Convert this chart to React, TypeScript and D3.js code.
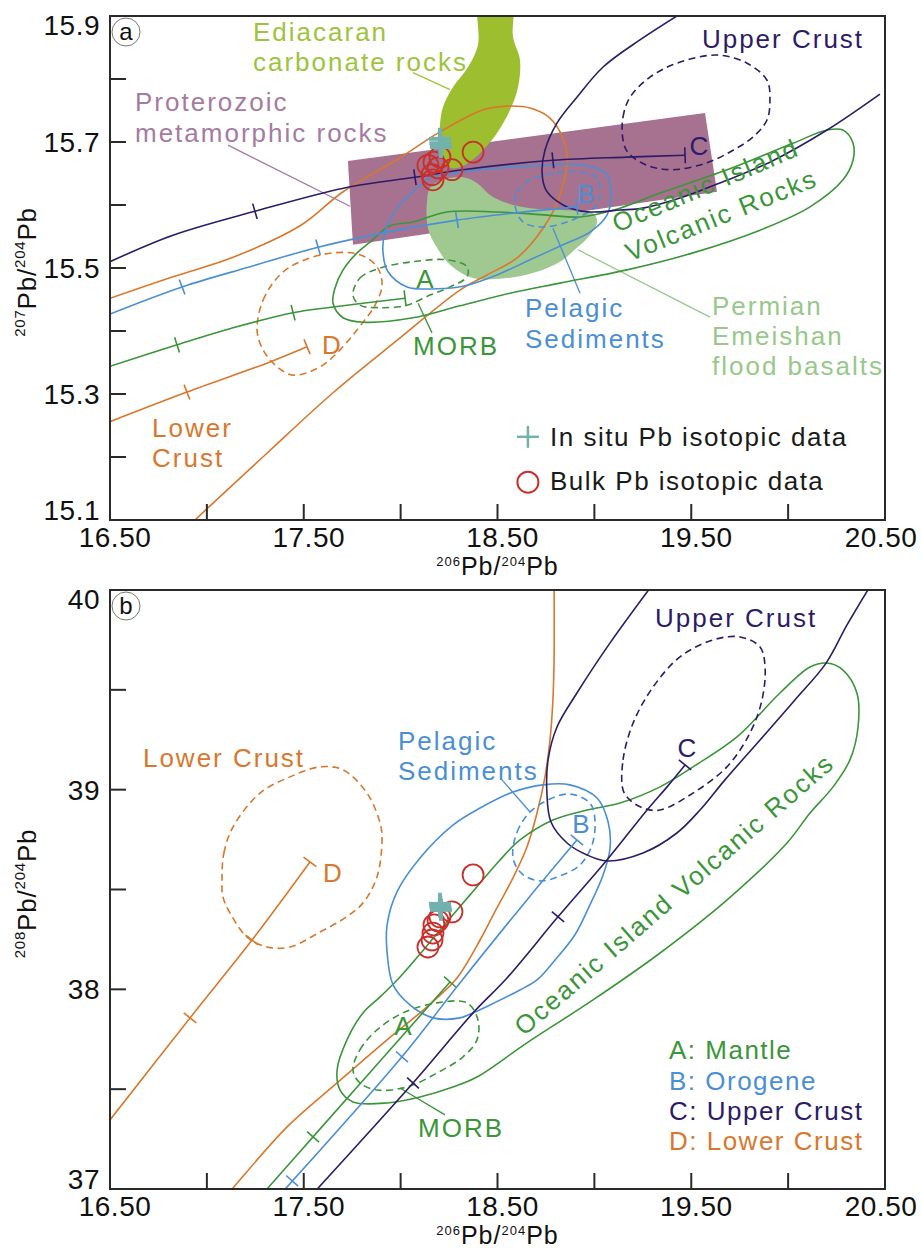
import React from 'react';
import * as d3 from 'd3';

type Pt = [number, number];

const FONT = "'Liberation Sans', Arial, Helvetica, sans-serif";
const NAVY = '#2d1b69';
const ORANGE = '#d9782d';
const BLUE = '#4a8fd6';
const GREEN = '#3b9639';
const RED = '#c9302c';
const TEAL = '#72b1ae';
const LIME = '#9dbf2f';
const LIME_TEXT = '#9cc43c';
const PERMIAN = '#9fc990';
const PERMIAN_TEXT = '#96c98a';
const PURPLE = '#a6728f';
const PURPLE_TEXT = '#a57ba2';
const AXIS = '#2a2a2a';

// ---------------- axes ----------------
const xTickValues = [17, 17.5, 18, 18.5, 19, 19.5, 20];
const xLabelValues = [16.5, 17.5, 18.5, 19.5, 20.5];
const aYTickValues = [15.2, 15.3, 15.4, 15.5, 15.6, 15.7, 15.8];
const aYLabelValues = [15.1, 15.3, 15.5, 15.7, 15.9];
const bYTickValues = [37.5, 38, 38.5, 39, 39.5];
const bYLabelValues = [37, 38, 39, 40];

// ---------------- samples ----------------
const bulk206 = [18.374, 18.265, 18.203, 18.172, 18.167, 18.162, 18.141, 18.193];
const bulk207 = [15.684, 15.656, 15.676, 15.668, 15.640, 15.648, 15.663, 15.659];
const bulk208 = [38.573, 38.388, 38.363, 38.323, 38.282, 38.247, 38.212, 38.343];
const insitu206 = [18.203, 18.205, 18.208];
const insitu207 = [15.705, 15.698, 15.692];
const insitu208 = [38.428, 38.413, 38.398];

// ---------------- panel a fields ----------------
const a_ediacaran: Pt[] = [[18.41,15.93],[18.57,15.93],[18.580,15.867],[18.616,15.830],[18.606,15.787],[18.565,15.751],[18.497,15.714],[18.425,15.687],[18.368,15.671],[18.306,15.660],[18.255,15.659],[18.219,15.671],[18.203,15.703],[18.203,15.727],[18.219,15.756],[18.270,15.787],[18.348,15.819],[18.399,15.854]];
const a_proterozoic: Pt[] = [[17.728,15.670],[19.571,15.746],[19.633,15.621],[17.754,15.537]];
const a_permian: Pt[] = [[18.136,15.605],[18.152,15.627],[18.219,15.640],[18.322,15.644],[18.394,15.635],[18.461,15.616],[18.549,15.603],[18.668,15.595],[18.838,15.592],[18.993,15.587],[19.014,15.573],[18.977,15.552],[18.910,15.532],[18.823,15.510],[18.704,15.494],[18.549,15.484],[18.374,15.484],[18.255,15.505],[18.188,15.532],[18.141,15.563]];

const a_lowerCrustField: Pt[] = [[16.500,15.452],[16.825,15.486],[17.135,15.517],[17.481,15.567],[17.703,15.621],[17.997,15.675],[18.203,15.716],[18.425,15.751],[18.549,15.757],[18.668,15.754],[18.771,15.738],[18.838,15.706],[18.859,15.675],[18.823,15.616],[18.735,15.563],[18.601,15.516],[18.446,15.489],[18.306,15.465],[17.997,15.389],[17.651,15.302],[17.310,15.206],[16.939,15.100],[16.90,15.088]];
const a_lowerCrustCurve: Pt[] = [[16.5,15.256],[16.897,15.303],[17.310,15.349],[17.517,15.375]];
const a_lowerCrustTicks: Pt[] = [[16.897,15.303],[17.517,15.375]];
const a_lowerCrustEllipse: Pt[] = [[17.259,15.402],[17.290,15.449],[17.377,15.489],[17.481,15.510],[17.651,15.524],[17.790,15.521],[17.878,15.502],[17.904,15.473],[17.868,15.441],[17.806,15.414],[17.687,15.370],[17.584,15.343],[17.445,15.330],[17.352,15.346],[17.285,15.373]];

const a_orogeneCurve: Pt[] = [[16.5,15.427],[16.872,15.470],[17.223,15.502],[17.574,15.533],[17.930,15.557],[18.291,15.576],[18.580,15.587],[18.910,15.597]];
const a_orogeneTicks: Pt[] = [[16.872,15.470],[17.574,15.533],[18.291,15.576],[18.910,15.597]];
const a_pelagicField: Pt[] = [[18.152,15.643],[18.085,15.627],[17.981,15.595],[17.919,15.557],[17.909,15.525],[17.935,15.494],[18.033,15.470],[18.188,15.467],[18.322,15.471],[18.497,15.489],[18.668,15.513],[18.838,15.537],[18.977,15.557],[19.065,15.584],[19.086,15.616],[19.065,15.648],[18.993,15.660],[18.874,15.665],[18.668,15.662],[18.410,15.656],[18.239,15.648]];
const a_orogeneEllipse: Pt[] = [[18.590,15.600],[18.601,15.621],[18.668,15.640],[18.807,15.651],[18.941,15.652],[19.014,15.643],[19.029,15.621],[19.014,15.600],[18.941,15.584],[18.838,15.571],[18.735,15.565],[18.632,15.573]];

const a_mantleCurve: Pt[] = [[16.5,15.344],[16.846,15.378],[17.135,15.405],[17.445,15.429],[17.651,15.438],[18.023,15.452]];
const a_mantleTicks: Pt[] = [[16.846,15.378],[17.445,15.429],[18.023,15.452]];
const a_oibField: Pt[] = [[17.945,15.567],[18.064,15.573],[18.239,15.589],[18.497,15.589],[18.755,15.584],[18.926,15.581],[19.132,15.595],[19.339,15.619],[19.685,15.656],[20.025,15.698],[20.201,15.719],[20.283,15.719],[20.335,15.698],[20.335,15.671],[20.283,15.640],[20.113,15.597],[19.855,15.560],[19.509,15.524],[19.168,15.497],[18.823,15.476],[18.565,15.460],[18.306,15.440],[18.064,15.421],[17.806,15.414],[17.703,15.421],[17.651,15.444],[17.661,15.468],[17.703,15.497],[17.775,15.524],[17.842,15.541]];
const a_morbEllipse: Pt[] = [[17.754,15.457],[17.790,15.484],[17.894,15.500],[18.064,15.510],[18.239,15.513],[18.343,15.502],[18.343,15.486],[18.255,15.470],[18.152,15.457],[18.033,15.441],[17.894,15.437],[17.790,15.441]];

const a_upperCrustCurve: Pt[] = [[16.5,15.510],[16.825,15.552],[17.248,15.590],[17.739,15.629],[18.074,15.644],[18.322,15.656],[18.786,15.671],[19.168,15.676],[19.468,15.679]];
const a_upperCrustTicks: Pt[] = [[17.248,15.590],[18.074,15.644],[18.786,15.671],[19.468,15.679]];
const a_upperCrustField: Pt[] = [[19.494,15.913],[19.235,15.862],[19.045,15.819],[18.910,15.771],[18.807,15.730],[18.745,15.687],[18.730,15.652],[18.750,15.624],[18.807,15.606],[18.874,15.595],[18.977,15.589],[19.132,15.592],[19.251,15.595],[19.442,15.611],[19.648,15.635],[19.906,15.668],[20.201,15.719],[20.474,15.776]];
const a_upperCrustEllipse: Pt[] = [[19.148,15.703],[19.148,15.740],[19.184,15.771],[19.287,15.803],[19.426,15.825],[19.633,15.838],[19.788,15.825],[19.891,15.798],[19.906,15.767],[19.891,15.735],[19.819,15.708],[19.716,15.687],[19.581,15.667],[19.406,15.656],[19.272,15.663],[19.174,15.683]];

// ---------------- panel b fields ----------------
const b_lowerCrustField: Pt[] = [[18.792,40.05],[18.792,39.650],[18.786,39.449],[18.771,39.249],[18.745,39.064],[18.704,38.883],[18.652,38.713],[18.580,38.558],[18.497,38.408],[18.410,38.247],[18.291,38.057],[18.188,37.957],[18.100,37.882],[17.930,37.747],[17.672,37.531],[17.414,37.311],[17.130,37.000],[17.094,36.96]];
const b_lowerCrustCurve: Pt[] = [[16.5,37.346],[16.913,37.857],[17.233,38.247],[17.532,38.638]];
const b_lowerCrustTicks: Pt[] = [[16.913,37.857],[17.233,38.247],[17.532,38.638]];
const b_lowerCrustEllipse: Pt[] = [[17.078,38.563],[17.088,38.683],[17.135,38.813],[17.274,38.983],[17.429,39.064],[17.584,39.114],[17.703,39.099],[17.826,38.983],[17.894,38.833],[17.904,38.748],[17.878,38.563],[17.806,38.433],[17.713,38.358],[17.584,38.287],[17.429,38.212],[17.310,38.212],[17.207,38.262],[17.119,38.383],[17.083,38.463]];

const b_orogeneCurve: Pt[] = [[17.367,36.96],[18.007,37.662],[18.306,38.032],[18.652,38.448],[18.910,38.748]];
const b_orogeneTicks: Pt[] = [[17.44,37.041],[18.007,37.662],[18.910,38.748]];
const b_pelagicField: Pt[] = [[19.081,38.708],[19.045,38.573],[18.977,38.423],[18.899,38.272],[18.797,38.147],[18.704,38.047],[18.616,37.997],[18.462,37.922],[18.384,37.887],[18.306,37.857],[18.167,37.857],[18.048,37.922],[17.961,38.022],[17.930,38.187],[17.930,38.322],[17.981,38.488],[18.100,38.658],[18.270,38.823],[18.410,38.908],[18.580,38.988],[18.735,39.024],[18.874,39.024],[19.014,38.958],[19.071,38.838]];
const b_orogeneEllipse: Pt[] = [[18.580,38.658],[18.601,38.788],[18.668,38.888],[18.771,38.953],[18.874,38.978],[18.977,38.933],[19.003,38.848],[18.988,38.723],[18.926,38.623],[18.823,38.568],[18.719,38.543],[18.627,38.578]];

const b_mantleCurve: Pt[] = [[17.274,36.96],[17.548,37.261],[18.255,38.037]];
const b_mantleTicks: Pt[] = [[17.548,37.261],[18.255,38.037]];
const b_oibField: Pt[] = [[17.672,37.596],[17.723,37.747],[17.806,37.882],[17.894,37.962],[17.997,38.062],[18.100,38.177],[18.203,38.297],[18.358,38.473],[18.513,38.648],[18.616,38.748],[18.786,38.848],[18.962,38.898],[19.132,38.933],[19.339,39.014],[19.509,39.114],[19.736,39.264],[19.958,39.484],[20.113,39.614],[20.201,39.634],[20.283,39.599],[20.355,39.484],[20.361,39.314],[20.319,39.149],[20.232,39.014],[20.113,38.883],[19.994,38.733],[19.685,38.448],[19.339,38.182],[18.993,37.947],[18.652,37.732],[18.394,37.561],[18.270,37.511],[18.100,37.461],[17.930,37.431],[17.754,37.436],[17.687,37.496]];
const b_morbEllipse: Pt[] = [[17.754,37.596],[17.790,37.697],[17.878,37.797],[18.012,37.882],[18.188,37.932],[18.343,37.932],[18.399,37.847],[18.394,37.747],[18.322,37.662],[18.188,37.581],[18.033,37.511],[17.878,37.496],[17.790,37.531]];

const b_upperCrustCurve: Pt[] = [[17.532,36.96],[18.064,37.531],[18.374,37.882],[18.549,38.057],[18.812,38.363],[19.065,38.648],[19.272,38.898],[19.375,39.014],[19.468,39.124]];
const b_upperCrustTicks: Pt[] = [[18.064,37.531],[18.812,38.363],[19.468,39.124]];
const b_upperCrustField: Pt[] = [[19.318,40.05],[19.081,39.735],[18.910,39.484],[18.807,39.314],[18.761,39.149],[18.755,38.983],[18.776,38.838],[18.859,38.733],[18.962,38.673],[19.065,38.643],[19.251,38.683],[19.426,38.783],[19.545,38.898],[19.674,39.049],[19.855,39.249],[20.035,39.449],[20.196,39.634],[20.304,39.825],[20.443,40.05]];
const b_upperCrustEllipse: Pt[] = [[19.148,38.998],[19.148,39.149],[19.200,39.334],[19.303,39.514],[19.442,39.665],[19.612,39.750],[19.752,39.765],[19.855,39.715],[19.881,39.614],[19.865,39.449],[19.803,39.284],[19.684,39.114],[19.509,38.983],[19.339,38.898],[19.251,38.908],[19.184,38.948]];

// ---------------- helpers ----------------
const X0 = 110, X1 = 885;

function toPx(pts: Pt[], x: any, y: any): [number, number][] {
  return pts.map(p => [x(p[0]), y(p[1])] as [number, number]);
}
function shapePath(pts: Pt[], x: any, y: any, closed: boolean, smooth: boolean) {
  const curve = smooth
    ? (closed ? d3.curveCatmullRomClosed.alpha(0.5) : d3.curveCatmullRom.alpha(0.5))
    : (closed ? d3.curveLinearClosed : d3.curveLinear);
  return d3.line<[number, number]>().curve(curve)(toPx(pts, x, y)) || '';
}
function tickPath(curve: Pt[], t: Pt, x: any, y: any, half = 8) {
  const cp = toPx(curve, x, y);
  const tx = x(t[0]), ty = y(t[1]);
  let best = 0, bd = Infinity;
  for (let i = 0; i < cp.length - 1; i++) {
    const [ax, ay] = cp[i], [bx, by] = cp[i + 1];
    const dx = bx - ax, dy = by - ay;
    const L2 = dx * dx + dy * dy;
    let u = L2 ? ((tx - ax) * dx + (ty - ay) * dy) / L2 : 0;
    u = Math.max(0, Math.min(1, u));
    const d = (ax + u * dx - tx) ** 2 + (ay + u * dy - ty) ** 2;
    if (d < bd) { bd = d; best = i; }
  }
  const [ax, ay] = cp[best], [bx, by] = cp[best + 1];
  const L = Math.hypot(bx - ax, by - ay) || 1;
  const nx = -(by - ay) / L, ny = (bx - ax) / L;
  return `M${tx + nx * half},${ty + ny * half}L${tx - nx * half},${ty - ny * half}`;
}

type Fill = { pts: Pt[]; color: string; smooth: boolean };
type Line = { pts: Pt[]; color: string; closed: boolean; dashed?: boolean };
type Growth = { pts: Pt[]; ticks: Pt[]; color: string };
type Label = { t: string; x: number; y: number; c: string; anchor?: string; rot?: number; size?: number; ls?: number };
type Leader = { a: Pt; b: Pt; c: string };

interface PanelCfg {
  id: string; letter: string; yDomain: [number, number]; top: number; bottom: number;
  yTicks: number[]; yLabels: number[]; yFmt: (v: number) => string; ySup: string;
  fills: Fill[]; lines: Line[]; growth: Growth[]; labels: Label[]; leaders: Leader[];
  bulkY: number[]; insituY: number[];
  legendMarkers?: { plus: Pt; circle: Pt };
}

const panelA: PanelCfg = {
  id: 'a', letter: 'a', yDomain: [15.1, 15.9], top: 16, bottom: 520,
  yTicks: aYTickValues, yLabels: aYLabelValues, yFmt: d3.format('.1f'), ySup: '207',
  fills: [
    { pts: a_proterozoic, color: PURPLE, smooth: false },
    { pts: a_ediacaran, color: LIME, smooth: true },
    { pts: a_permian, color: PERMIAN, smooth: true },
  ],
  lines: [
    { pts: a_lowerCrustField, color: ORANGE, closed: false },
    { pts: a_lowerCrustEllipse, color: ORANGE, closed: true, dashed: true },
    { pts: a_oibField, color: GREEN, closed: true },
    { pts: a_morbEllipse, color: GREEN, closed: true, dashed: true },
    { pts: a_pelagicField, color: BLUE, closed: true },
    { pts: a_orogeneEllipse, color: BLUE, closed: true, dashed: true },
    { pts: a_upperCrustField, color: NAVY, closed: false },
    { pts: a_upperCrustEllipse, color: NAVY, closed: true, dashed: true },
  ],
  growth: [
    { pts: a_lowerCrustCurve, ticks: a_lowerCrustTicks, color: ORANGE },
    { pts: a_mantleCurve, ticks: a_mantleTicks, color: GREEN },
    { pts: a_orogeneCurve, ticks: a_orogeneTicks, color: BLUE },
    { pts: a_upperCrustCurve, ticks: a_upperCrustTicks, color: NAVY },
  ],
  leaders: [
    { a: [17.109, 15.695], b: [17.739, 15.598], c: PURPLE_TEXT },
    { a: [18.064, 15.810], b: [18.255, 15.783], c: LIME_TEXT },
    { a: [18.915, 15.529], b: [19.597, 15.422], c: PERMIAN_TEXT },
    { a: [18.786, 15.563], b: [18.926, 15.460], c: BLUE },
    { a: [18.090, 15.444], b: [18.162, 15.397], c: GREEN },
  ],
  labels: [
    { t: 'Ediacaran', x: 17.238, y: 15.860, c: LIME_TEXT },
    { t: 'carbonate rocks', x: 17.238, y: 15.813, c: LIME_TEXT },
    { t: 'Proterozoic', x: 16.629, y: 15.749, c: PURPLE_TEXT },
    { t: 'metamorphic rocks', x: 16.629, y: 15.700, c: PURPLE_TEXT },
    { t: 'Upper Crust', x: 19.555, y: 15.849, c: NAVY },
    { t: 'Permian', x: 19.607, y: 15.425, c: PERMIAN_TEXT },
    { t: 'Emeishan', x: 19.607, y: 15.378, c: PERMIAN_TEXT },
    { t: 'flood basalts', x: 19.607, y: 15.330, c: PERMIAN_TEXT },
    { t: 'Pelagic', x: 18.642, y: 15.422, c: BLUE },
    { t: 'Sediments', x: 18.642, y: 15.373, c: BLUE },
    { t: 'MORB', x: 18.064, y: 15.362, c: GREEN },
    { t: 'Lower', x: 16.717, y: 15.232, c: ORANGE },
    { t: 'Crust', x: 16.717, y: 15.184, c: ORANGE },
    { t: 'A', x: 18.126, y: 15.468, c: GREEN, anchor: 'middle', ls: 0 },
    { t: 'B', x: 18.957, y: 15.603, c: BLUE, anchor: 'middle', ls: 0 },
    { t: 'C', x: 19.540, y: 15.679, c: NAVY, anchor: 'middle', ls: 0 },
    { t: 'D', x: 17.594, y: 15.363, c: ORANGE, ls: 0 },
    { t: 'Oceanic Island', x: 19.117, y: 15.556, c: GREEN, rot: -23 },
    { t: 'Volcanic Rocks', x: 19.184, y: 15.510, c: GREEN, rot: -22 },
    { t: 'In situ Pb isotopic data', x: 18.771, y: 15.217, c: '#1a1a1a', ls: 1.5 },
    { t: 'Bulk Pb isotopic data', x: 18.771, y: 15.148, c: '#1a1a1a', ls: 1.5 },
  ],
  bulkY: bulk207, insituY: insitu207,
  legendMarkers: { plus: [18.657, 15.232], circle: [18.657, 15.160] },
};

const panelB: PanelCfg = {
  id: 'b', letter: 'b', yDomain: [37, 40], top: 590, bottom: 1189,
  yTicks: bYTickValues, yLabels: bYLabelValues, yFmt: d3.format('d'), ySup: '208',
  fills: [],
  lines: [
    { pts: b_lowerCrustField, color: ORANGE, closed: false },
    { pts: b_lowerCrustEllipse, color: ORANGE, closed: true, dashed: true },
    { pts: b_oibField, color: GREEN, closed: true },
    { pts: b_morbEllipse, color: GREEN, closed: true, dashed: true },
    { pts: b_pelagicField, color: BLUE, closed: true },
    { pts: b_orogeneEllipse, color: BLUE, closed: true, dashed: true },
    { pts: b_upperCrustField, color: NAVY, closed: false },
    { pts: b_upperCrustEllipse, color: NAVY, closed: true, dashed: true },
  ],
  growth: [
    { pts: b_lowerCrustCurve, ticks: b_lowerCrustTicks, color: ORANGE },
    { pts: b_mantleCurve, ticks: b_mantleTicks, color: GREEN },
    { pts: b_orogeneCurve, ticks: b_orogeneTicks, color: BLUE },
    { pts: b_upperCrustCurve, ticks: b_upperCrustTicks, color: NAVY },
  ],
  leaders: [
    { a: [18.523, 39.049], b: [18.668, 38.888], c: BLUE },
    { a: [17.997, 37.506], b: [18.229, 37.371], c: GREEN },
  ],
  labels: [
    { t: 'Lower Crust', x: 16.670, y: 39.114, c: ORANGE },
    { t: 'Upper Crust', x: 19.313, y: 39.815, c: NAVY },
    { t: 'Pelagic', x: 17.986, y: 39.199, c: BLUE },
    { t: 'Sediments', x: 17.986, y: 39.049, c: BLUE },
    { t: 'MORB', x: 18.090, y: 37.261, c: GREEN },
    { t: 'A', x: 18.012, y: 37.772, c: GREEN, anchor: 'middle', ls: 0 },
    { t: 'B', x: 18.931, y: 38.783, c: BLUE, anchor: 'middle', ls: 0 },
    { t: 'C', x: 19.478, y: 39.164, c: NAVY, anchor: 'middle', ls: 0 },
    { t: 'D', x: 17.599, y: 38.538, c: ORANGE, ls: 0 },
    { t: 'Oceanic Island Volcanic Rocks', x: 18.637, y: 37.762, c: GREEN, rot: -41 },
    { t: 'A: Mantle', x: 19.385, y: 37.651, c: GREEN, ls: 1.5 },
    { t: 'B: Orogene', x: 19.385, y: 37.496, c: BLUE, ls: 1.5 },
    { t: 'C: Upper Crust', x: 19.385, y: 37.346, c: NAVY, ls: 1.5 },
    { t: 'D: Lower Crust', x: 19.385, y: 37.196, c: ORANGE, ls: 1.5 },
  ],
  bulkY: bulk208, insituY: insitu208,
};

function Panel({ cfg }: { cfg: PanelCfg }) {
  const x = d3.scaleLinear().domain([16.5, 20.5]).range([X0, X1]);
  const y = d3.scaleLinear().domain(cfg.yDomain).range([cfg.bottom, cfg.top]);
  const clipId = `clip-${cfg.id}`;
  const midX = (X0 + X1) / 2;
  const midY = (cfg.top + cfg.bottom) / 2;
  const fmtX = d3.format('.2f');

  const cross = (cx: number, cy: number, r: number, w: number, key: string) => (
    <g key={key} stroke={TEAL} strokeWidth={w}>
      <line x1={cx - r} x2={cx + r} y1={cy} y2={cy} />
      <line x1={cx} x2={cx} y1={cy - r} y2={cy + r} />
    </g>
  );

  return (
    <g>
      <defs>
        <clipPath id={clipId}>
          <rect x={X0} y={cfg.top} width={X1 - X0} height={cfg.bottom - cfg.top} />
        </clipPath>
      </defs>
      <g clipPath={`url(#${clipId})`}>
        {cfg.fills.map((f, i) => (
          <path key={'f' + i} d={shapePath(f.pts, x, y, true, f.smooth)} fill={f.color} stroke="none" />
        ))}
        {cfg.leaders.map((l, i) => (
          <line key={'ld' + i} x1={x(l.a[0])} y1={y(l.a[1])} x2={x(l.b[0])} y2={y(l.b[1])} stroke={l.c} strokeWidth={1.3} />
        ))}
        {cfg.lines.map((l, i) => (
          <path key={'l' + i} d={shapePath(l.pts, x, y, l.closed, true)} fill="none" stroke={l.color}
            strokeWidth={1.6} strokeDasharray={l.dashed ? '7 4.5' : undefined} />
        ))}
        {cfg.growth.map((g, i) => (
          <g key={'g' + i} stroke={g.color} strokeWidth={1.6} fill="none">
            <path d={shapePath(g.pts, x, y, false, true)} />
            {g.ticks.map((t, j) => <path key={j} d={tickPath(g.pts, t, x, y, 8)} />)}
          </g>
        ))}
        {bulk206.map((v, i) => (
          <circle key={'b' + i} cx={x(v)} cy={y(cfg.bulkY[i])} r={10.5} fill="none" stroke={RED} strokeWidth={1.8} />
        ))}
        {insitu206.map((v, i) => cross(x(v), y(cfg.insituY[i]), 11, 4, 'c' + i))}
      </g>

      {cfg.labels.map((l, i) => {
        const px = x(l.x), py = y(l.y);
        return (
          <text key={'t' + i} x={px} y={py} fill={l.c} fontSize={l.size ?? 26}
            letterSpacing={l.ls ?? 2} textAnchor={l.anchor ?? 'start'}
            transform={l.rot ? `rotate(${l.rot},${px},${py})` : undefined}>{l.t}</text>
        );
      })}

      {cfg.legendMarkers && (
        <g>
          {cross(x(cfg.legendMarkers.plus[0]), y(cfg.legendMarkers.plus[1]), 11, 2.5, 'lp')}
          <circle cx={x(cfg.legendMarkers.circle[0])} cy={y(cfg.legendMarkers.circle[1])} r={10.5} fill="none" stroke={RED} strokeWidth={2} />
        </g>
      )}

      {/* panel letter */}
      <circle cx={X0 + 16} cy={cfg.top + 16} r={14} fill="#fff" stroke="#555" strokeWidth={0.8} />
      <text x={X0 + 16} y={cfg.top + 24} textAnchor="middle" fontSize={24} fill="#111">{cfg.letter}</text>

      {/* frame and axes */}
      <rect x={X0} y={cfg.top} width={X1 - X0} height={cfg.bottom - cfg.top} fill="none" stroke={AXIS} strokeWidth={2} />
      {xTickValues.map((v, i) => (
        <line key={'xt' + i} x1={x(v)} x2={x(v)} y1={cfg.bottom} y2={cfg.bottom - 16} stroke={AXIS} strokeWidth={2} />
      ))}
      {cfg.yTicks.map((v, i) => (
        <line key={'yt' + i} x1={X0} x2={X0 + 16} y1={y(v)} y2={y(v)} stroke={AXIS} strokeWidth={2} />
      ))}
      {xLabelValues.map((v, i) => (
        <text key={'xl' + i} x={Math.min(x(v) + 5, 881)} y={cfg.bottom + 27} textAnchor="middle"
          fontSize={28} letterSpacing={0.5} fill="#111">{fmtX(v)}</text>
      ))}
      {cfg.yLabels.map((v, i) => {
        const cy = Math.max(cfg.top + 9, Math.min(cfg.bottom - 10, y(v)));
        return (
          <text key={'yl' + i} x={X0 - 10} y={cy + 10} textAnchor="end" fontSize={28} letterSpacing={0.5} fill="#111">{cfg.yFmt(v)}</text>
        );
      })}
      {/* x title */}
      <text x={midX} y={cfg.bottom + 54.5} textAnchor="middle" fontSize={25} fill="#111" letterSpacing={1}>
        <tspan fontSize={13} dy={-9}>206</tspan>
        <tspan dy={9}>Pb/</tspan>
        <tspan fontSize={13} dy={-9}>204</tspan>
        <tspan dy={9}>Pb</tspan>
      </text>
      {/* y title */}
      <text transform={`translate(36,${midY + 4}) rotate(-90)`} textAnchor="middle" fontSize={26} fill="#111" letterSpacing={0.8}>
        <tspan fontSize={15} dy={-11}>{cfg.ySup}</tspan>
        <tspan dy={11}>Pb/</tspan>
        <tspan fontSize={15} dy={-11}>204</tspan>
        <tspan dy={11}>Pb</tspan>
      </text>
    </g>
  );
}

export default function App() {
  return (
    <svg width={922} height={1249} viewBox="0 0 922 1249"
      style={{ position: 'absolute', left: 0, top: 0, background: '#fff', display: 'block' }}
      fontFamily={FONT}>
      <rect width={922} height={1249} fill="#fff" />
      <Panel cfg={panelA} />
      <Panel cfg={panelB} />
    </svg>
  );
}
